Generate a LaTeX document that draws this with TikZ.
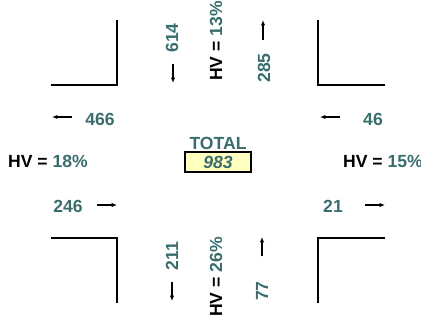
\documentclass[tikz,border=0pt]{standalone}
\usepackage{fontspec}
\setmainfont{Liberation Sans}
\usetikzlibrary{arrows.meta}
\definecolor{countteal}{HTML}{3A6E6E}
\definecolor{totalfill}{HTML}{FFFFC0}

\tikzset{
  curb/.style={line width=1.6pt,line join=miter},
  flow/.style={-{Latex[length=4.5pt,width=3.6pt]},line width=.9pt},
  count/.style={text=countteal,font=\fontsize{15}{17}\selectfont\bfseries,inner sep=0pt},
  hvlabel/.style={font=\fontsize{15}{17}\selectfont\bfseries,inner sep=0pt}
}
\newcommand{\hvtext}[1]{HV = \textcolor{countteal}{#1}}

\begin{document}
\begin{tikzpicture}[x=.03cm,y=.03cm]
    \useasboundingbox (0,0) rectangle (421,328);
    % curbs
    \draw[curb] (51,243) -- (117,243) -- (117,308);
    \draw[curb] (318,308) -- (318,243) -- (385,243);
    \draw[curb] (51,90) -- (117,90) -- (117,25);
    \draw[curb] (318,25) -- (318,90) -- (385,90);
    % north leg
    \node[count,rotate=90] (n614) at (172,290) {614};
    \draw[flow] (173,264) -- (173,245);
    \node[hvlabel,rotate=90] (hvnorth) at (216,287) {\hvtext{13\%}};
    \node[count,rotate=90] (n285) at (264,260) {285};
    \draw[flow] (263,288) -- (263,308);
    % west and east
    \node[count] (n466) at (100,209) {466};
    \draw[flow] (72,211) -- (52,211);
    \node[count] (n46) at (373,209) {46};
    \draw[flow] (340,211) -- (320,211);
    \node[hvlabel] (hvwest) at (48,167) {\hvtext{18\%}};
    \node[hvlabel] (hveast) at (383,167) {\hvtext{15\%}};
    \node[count] (n246) at (68,122) {246};
    \draw[flow] (97,123) -- (117,123);
    \node[count] (n21) at (333,122) {21};
    \draw[flow] (365,123) -- (385,123);
    % total
    \node[count] (total) at (218,185) {TOTAL};
    \node[count,draw=black,line width=1.6pt,fill=totalfill,
      minimum width=1.98cm,minimum height=.6cm,
      font=\fontsize{15}{17}\selectfont\bfseries\itshape] (totalbox) at (218,166) {983};
    % south leg
    \node[count,rotate=90] (n211) at (172,72) {211};
    \draw[flow] (172,46) -- (172,27);
    \node[hvlabel,rotate=90] (hvsouth) at (216,51) {\hvtext{26\%}};
    \node[count,rotate=90] (n77) at (262,37) {77};
    \draw[flow] (262,72) -- (262,91);
  \end{tikzpicture}
\end{document}
